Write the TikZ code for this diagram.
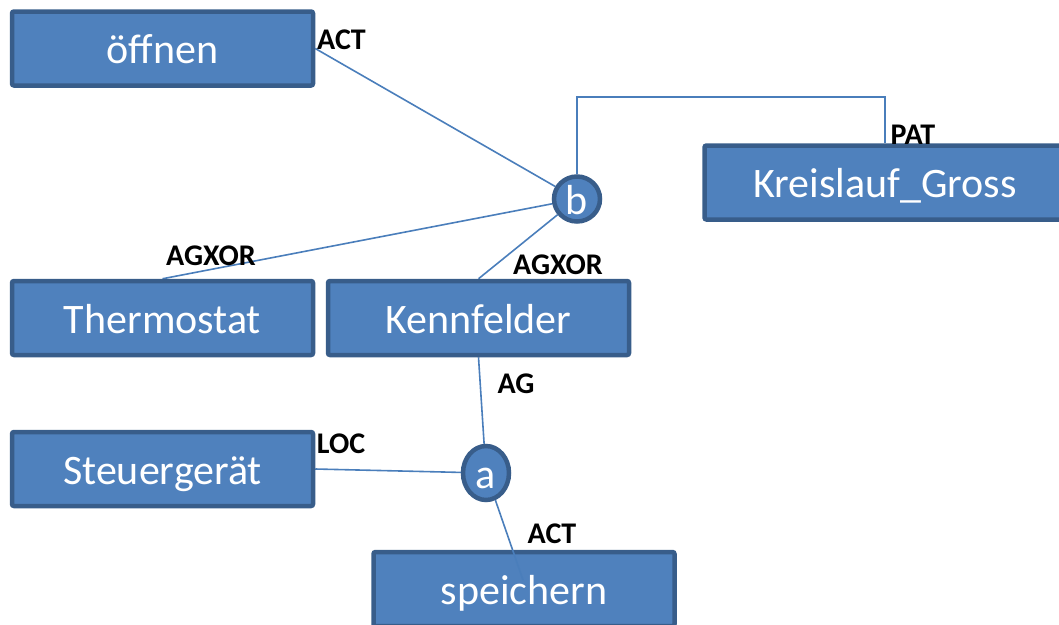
\documentclass[tikz,border=0pt]{standalone}
\usepackage{fontspec}
\setmainfont{Carlito}
\usetikzlibrary{backgrounds,shapes.geometric}
\definecolor{boxfill}{HTML}{4F81BD}
\definecolor{boxline}{HTML}{385D8A}
\definecolor{conn}{HTML}{4A7EBB}
\tikzset{
  ent/.style={rectangle, rounded corners=2pt, fill=boxfill, draw=boxline, line width=4.5pt,
    minimum width=301pt, minimum height=74pt, inner sep=0pt, text=white,
    font=\fontsize{42}{50}\selectfont, text height=30pt, text depth=0pt},
  rel/.style={ellipse, fill=boxfill, draw=boxline, line width=4.5pt, inner sep=0pt, text=white,
    font=\fontsize{42}{50}\selectfont, text height=31pt, text depth=0pt},
  lbl/.style={font=\fontsize{30}{34}\selectfont\bfseries, text=black, inner sep=0pt},
  con/.style={draw=conn, line width=1.6pt}
}
\begin{document}
\begin{tikzpicture}[x=1pt,y=-1pt]
\path[use as bounding box, clip] (0,0) rectangle (1059,624);
% entity boxes
\node[ent] (oe) at (162.5,48.5) {öffnen};
\node[ent, minimum width=361pt] (kr) at (885,182.5) {Kreislauf\_Gross};
\node[ent] (th) at (162.5,318) {Thermostat};
\node[ent] (kf) at (478.5,318) {Kennfelder};
\node[ent] (st) at (162.5,469) {Steuergerät};
\node[ent] (sp) at (524,589) {speichern};
% relation circles
\node[rel, minimum width=46pt, minimum height=45pt] (b) at (577,199) {b};
\node[rel, minimum width=46pt, minimum height=54pt] (a) at (486,473) {a};
% helper coordinates
\coordinate (toprow) at (0,97);
\coordinate (spin) at (523,580);
% connectors
\begin{scope}[on background layer]
\draw[con] (oe.east) -- (b);
\draw[con] (b.north) -- (b.north |- toprow) -| (kr.north);
\draw[con] (th.north) -- (b);
\draw[con] (kf.north) -- (b);
\draw[con] (kf.south) -- (a);
\draw[con] (st.east) -- (a);
\end{scope}
\draw[con] (a) -- (spin);
% labels
\node[lbl] (l1) at (341.5,40) {ACT};
\node[lbl] (l2) at (913,135) {PAT};
\node[lbl] (l3) at (211,256) {AGXOR};
\node[lbl] (l4) at (558,265) {AGXOR};
\node[lbl] (l5) at (516,384) {AG};
\node[lbl] (l6) at (341,444) {LOC};
\node[lbl] (l7) at (552,534) {ACT};
\end{tikzpicture}
\end{document}
